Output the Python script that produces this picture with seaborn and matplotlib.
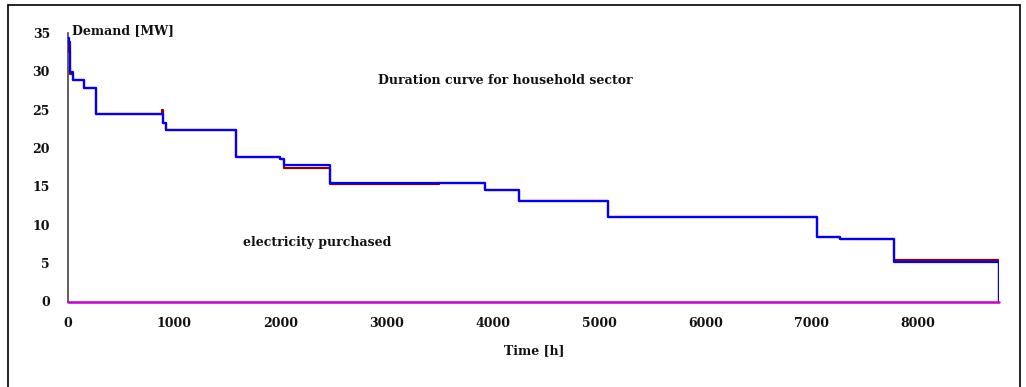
import matplotlib
matplotlib.use("Agg")
import matplotlib.pyplot as plt
from matplotlib.lines import Line2D
import pandas as pd
import seaborn as sns

# Load duration curve of the household sector (hours sorted by demand)
demand_hours = [0, 12, 22, 44, 148, 263, 897, 919, 1577, 1994, 2032, 2470,
                3923, 4243, 5083, 7046, 7262, 7777, 8760]
demand_mw = [34.4, 33.8, 29.9, 28.9, 27.8, 24.4, 23.3, 22.3, 18.9, 18.6, 17.8,
             15.5, 14.5, 13.1, 11.0, 8.4, 8.2, 5.2, 0.0]

# Reference curve drawn underneath the demand curve
reference_hours = [0, 8, 22, 44, 148, 263, 887, 897, 919, 1577, 1994, 2032,
                   2470, 3493, 3923, 4243, 5083, 7046, 7262, 7777, 8760]
reference_mw = [34.0, 32.5, 29.7, 28.9, 27.8, 24.4, 25.0, 23.3, 22.3, 18.9,
                18.6, 17.4, 15.3, 15.5, 14.5, 13.1, 11.0, 8.4, 8.2, 5.35, 0.0]

# Electricity purchased from the grid over the year
purchased_hours = [0, 8760]
purchased_mw = [0.0, 0.0]

x_ticks = [0, 1000, 2000, 3000, 4000, 5000, 6000, 7000, 8000]
y_ticks = [0, 5, 10, 15, 20, 25, 30, 35]

sns.set_style("white")
plt.rcParams["font.family"] = ["DejaVu Serif"]
plt.rcParams["font.weight"] = "bold"

W, H = 1026, 387
fig = plt.figure(figsize=(W / 100, H / 100), dpi=100)
left, right, bottom, top = 68, 998.7, 301.5, 33
ax = fig.add_axes([left / W, 1 - bottom / H, (right - left) / W, (bottom - top) / H])

ref_df = pd.DataFrame({"hours": reference_hours, "mw": reference_mw})
dem_df = pd.DataFrame({"hours": demand_hours, "mw": demand_mw})
pur_df = pd.DataFrame({"hours": purchased_hours, "mw": purchased_mw})

sns.lineplot(data=ref_df, x="hours", y="mw", ax=ax, color="#8B0000",
             linewidth=1.6, drawstyle="steps-post", estimator=None, zorder=3)
sns.lineplot(data=dem_df, x="hours", y="mw", ax=ax, color="#0000FF",
             linewidth=1.6, drawstyle="steps-post", estimator=None, zorder=4)
sns.lineplot(data=pur_df, x="hours", y="mw", ax=ax, color="#CC00CC",
             linewidth=1.8, estimator=None, zorder=5, clip_on=False)

ax.set_xlim(0, 8760)
ax.set_ylim(0, 35)
ax.set_xticks(x_ticks)
ax.set_yticks(y_ticks)
ax.set_xticklabels([str(v) for v in x_ticks], fontsize=9, fontweight="bold")
ax.set_yticklabels([str(v) for v in y_ticks], fontsize=9, fontweight="bold")
ax.set_xlabel("")
ax.set_ylabel("")

for side in ("top", "right"):
    ax.spines[side].set_visible(False)
ax.spines["left"].set_color("#444444")
ax.spines["left"].set_linewidth(1.2)
ax.spines["bottom"].set_color("#222222")
ax.spines["bottom"].set_linewidth(0.8)

ax.tick_params(axis="x", direction="inout", length=7, width=1, color="#222222",
               pad=7.6, labelcolor="#111111")
ax.tick_params(axis="y", direction="out", length=3.6, width=1, color="#222222",
               pad=9.4, labelcolor="#111111")
ax.grid(False)
ax.set_facecolor("none")

def px(x, y):
    return x / W, 1 - y / H

fig.text(*px(72, 31), "Demand [MW]", fontsize=9, fontweight="bold",
         ha="left", va="center", color="#111111")
fig.text(*px(505, 80), "Duration curve for household sector", fontsize=9,
         fontweight="bold", ha="center", va="center", color="#111111")
fig.text(*px(243, 242), "electricity purchased", fontsize=9,
         fontweight="bold", ha="left", va="center", color="#111111")
fig.text(*px(534, 351), "Time [h]", fontsize=9, fontweight="bold",
         ha="center", va="center", color="#111111")

# Outer chart frame (bottom edge lies outside the canvas)
frame_kw = dict(color="black", linewidth=1.2, transform=fig.transFigure)
fig.add_artist(Line2D([8 / W, 8 / W], [0, 1 - 5 / H], **frame_kw))
fig.add_artist(Line2D([8 / W, 1020 / W], [1 - 5 / H, 1 - 5 / H], **frame_kw))
fig.add_artist(Line2D([1020 / W, 1020 / W], [0, 1 - 5 / H], **frame_kw))

fig.savefig("out.png", dpi=100, facecolor="white")
